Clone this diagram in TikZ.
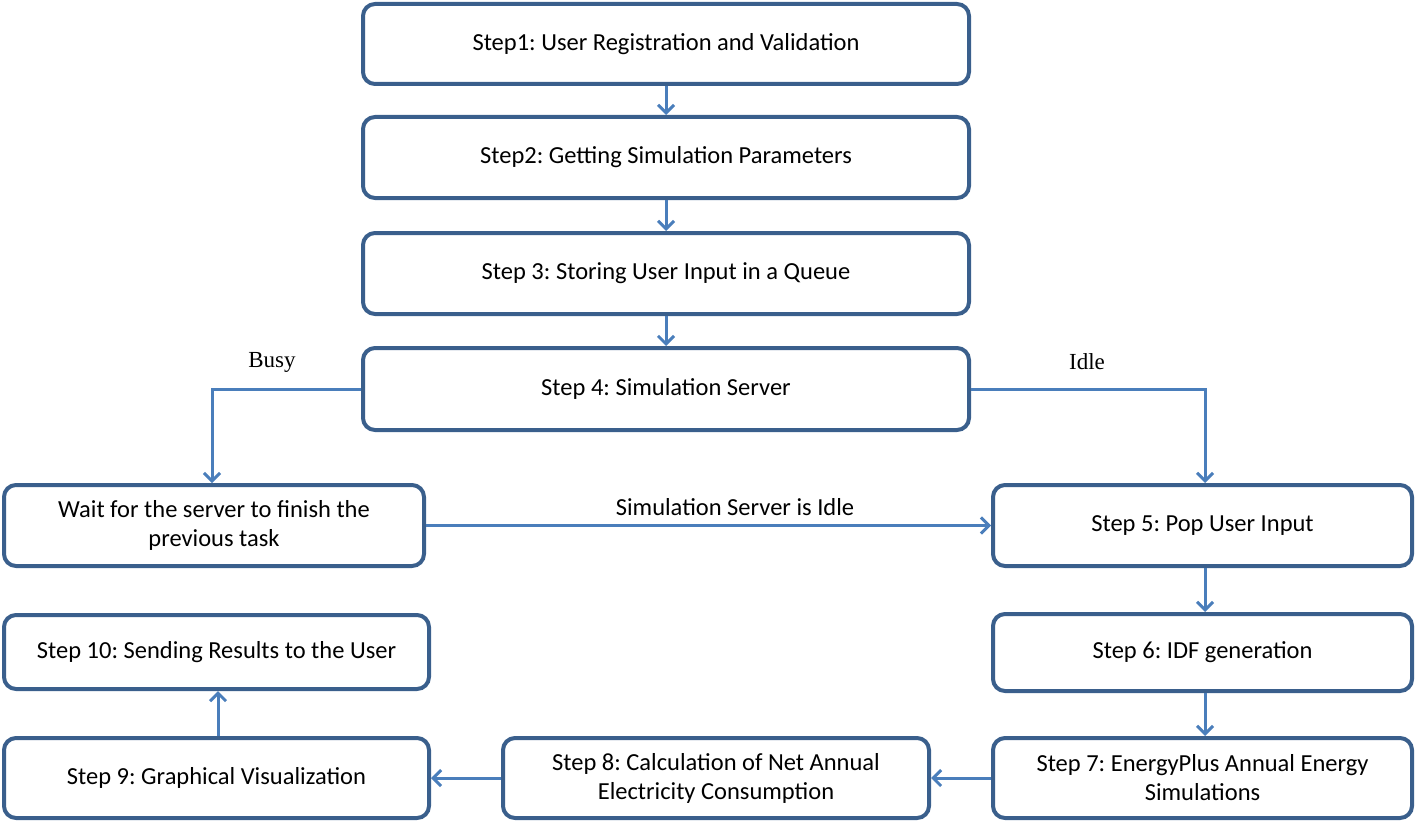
\documentclass[tikz,border=0pt]{standalone}
\usepackage{fontspec}
\setmainfont{Carlito}
\newfontfamily\serifname{Liberation Serif}
\usetikzlibrary{arrows.meta}
\definecolor{boxline}{HTML}{3A5F8C}
\definecolor{arrowline}{HTML}{4A7EBB}
\tikzset{
  stepbox/.style={draw=boxline, line width=4pt, rounded corners=12pt, fill=white,
    align=center, font=\fontsize{24.5}{29}\selectfont, inner sep=4pt},
  flow/.style={draw=arrowline, line width=3pt, -{Straight Barb[length=8pt,width=16pt,line width=3pt]}},
  lbl/.style={font=\serifname\fontsize{23}{27}\selectfont},
}
\frenchspacing
\begin{document}
\begin{tikzpicture}[x=1pt,y=-1pt]
\frenchspacing
\useasboundingbox (0,0) rectangle (1416,824);
\node[stepbox, minimum width=606pt, minimum height=80pt] (s1) at (666,44) {Step1: User Registration and Validation};
\node[stepbox, minimum width=606pt, minimum height=81pt] (s2) at (666,157.5) {Step2: Getting Simulation Parameters};
\node[stepbox, minimum width=606pt, minimum height=81pt] (s3) at (666,273.5) {Step 3: Storing User Input in a Queue};
\node[stepbox, minimum width=606pt, minimum height=82pt] (s4) at (666,389) {Step 4: Simulation Server};
\node[stepbox, minimum width=420pt, minimum height=81pt] (w) at (214,525.5) {Wait for the server to finish the\\previous task};
\node[stepbox, minimum width=419pt, minimum height=81pt] (s5) at (1202.5,525.5) {Step 5: Pop User Input};
\node[stepbox, minimum width=419pt, minimum height=77pt] (s6) at (1202.5,652.5) {Step 6: IDF generation};
\node[stepbox, minimum width=419pt, minimum height=80pt] (s7) at (1202.5,778) {Step 7: EnergyPlus Annual Energy\\Simulations};
\node[stepbox, minimum width=426pt, minimum height=80pt] (s8) at (716,778) {Step 8: Calculation of Net Annual\\Electricity Consumption};
\node[stepbox, minimum width=425pt, minimum height=80pt] (s9) at (216.5,778) {Step 9: Graphical Visualization};
\node[stepbox, minimum width=425pt, minimum height=74pt] (s10) at (216.5,652) {Step 10: Sending Results to the User};

\node[lbl] (busy) at (272,362) {Busy};
\node[lbl] (idle) at (1087,362) {Idle};
\node[font=\fontsize{24.5}{29}\selectfont] (sil) at (735,507) {Simulation Server is Idle};

\draw[flow] (s1) -- (s2);
\draw[flow] (s2) -- (s3);
\draw[flow] (s3) -- (s4);
\draw[flow] (s4.west) -| (w.north -| 212,0);
\draw[flow] (s4.east) -| (s5.north -| 1205,0);
\draw[flow] (w) -- (s5);
\draw[flow] (s5.south -| 1205,0) -- (s6.north -| 1205,0);
\draw[flow] (s6.south -| 1205,0) -- (s7.north -| 1205,0);
\draw[flow] (s7) -- (s8);
\draw[flow] (s8) -- (s9);
\draw[flow] (s9.north -| 218,0) -- (s10.south -| 218,0);
\end{tikzpicture}
\end{document}
